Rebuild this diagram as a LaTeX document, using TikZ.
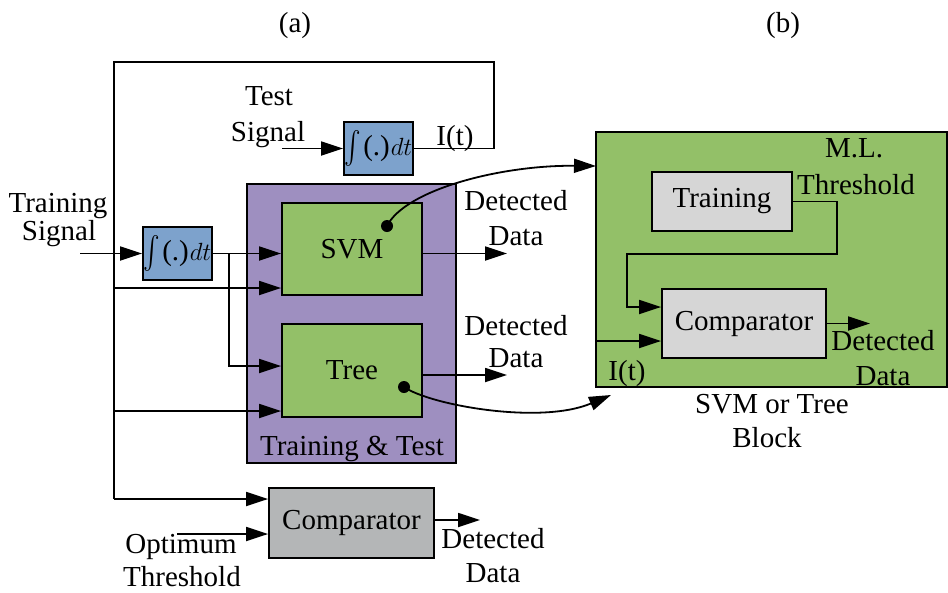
\documentclass[tikz,border=0pt]{standalone}
\usepackage{amsmath}
\usepackage{fontspec}
\setmainfont{Liberation Serif}
\usetikzlibrary{arrows.meta}
\definecolor{intblue}{RGB}{125,162,204}
\definecolor{ttpurple}{RGB}{158,143,192}
\definecolor{mlgreen}{RGB}{147,192,104}
\definecolor{boxgray}{RGB}{214,214,214}
\definecolor{compgray}{RGB}{180,182,183}
\newcommand{\intg}{\raisebox{-1pt}{\scalebox{1}[1.3]{$\textstyle\int$}}\kern2pt(.)\kern1pt$dt$}
\begin{document}
\begin{tikzpicture}[x=1pt,y=-1pt, line width=1.8pt,
  font=\fontsize{29}{32}\selectfont,
  >={Triangle[length=22pt,width=14pt]},
  blk/.style={draw, line width=1.8pt, inner sep=0pt, align=center},
  lbl/.style={anchor=base, inner sep=0pt},
  dot/.style={circle, fill, inner sep=0pt, minimum size=12pt}]
\useasboundingbox (0,0) rectangle (948,592);

% ---------- (a) ----------
\node[blk, fill=ttpurple, minimum width=209pt, minimum height=279pt] (tt) at (351.5,323.5) {};
\node[blk, fill=mlgreen, minimum width=140pt, minimum height=92pt] (svm) at (352,249) {SVM};
\node[blk, fill=mlgreen, minimum width=140pt, minimum height=93pt] (tree) at (352,370.5) {Tree};
\node[lbl] (ttl) at (352,455) {Training \& Test};
\node[blk, fill=intblue, minimum width=69pt, minimum height=53pt] (int1) at (378.5,148.5) {\intg};
\node[blk, fill=intblue, minimum width=69pt, minimum height=53pt] (int2) at (177.5,253.5) {\intg};
\node[blk, fill=compgray, minimum width=165pt, minimum height=70pt] (comp1) at (351.5,523) {Comparator};

% labels (a)
\node[lbl] (la) at (295,32) {(a)};
\node[lbl] (test1) at (269,105) {Test};
\node[lbl] (test2) at (268,141) {Signal};
\node[lbl] (tr1) at (58,212) {Training};
\node[lbl] (tr2) at (59,240) {Signal};
\node[lbl] (it1) at (455,145) {I(t)};
\node[lbl] (dd1) at (516,210) {Detected};
\node[lbl] (dd2) at (516,245) {Data};
\node[lbl] (dd3) at (516,335) {Detected};
\node[lbl] (dd4) at (516,367) {Data};
\node[lbl] (op1) at (181,553) {Optimum};
\node[lbl] (op2) at (182,586) {Threshold};
\node[lbl] (dd5) at (493,548) {Detected};
\node[lbl] (dd6) at (493,582) {Data};

% connectors (a)
\coordinate (ts) at (282,148.5);
\draw[->] (ts) -- (int1.west);
\coordinate (tr) at (494,62);
\coordinate (lp) at (114,499);
\draw (int1.east) -| (tr) -| (lp);
\draw[->] (lp) -- (comp1.west |- lp);
\coordinate (b1) at (114,288);
\draw[->] (b1) -- (svm.west |- b1);
\coordinate (b2) at (114,411);
\draw[->] (b2) -- (tree.west |- b2);
\coordinate (trs) at (80,253.5);
\draw[->] (trs) -- (int2.west);
\draw[->] (int2.east) -- (svm.west |- int2.east);
\coordinate (sp2) at (229,366);
\draw[->] (int2.east) -| (sp2) -- (tree.west |- sp2);
\coordinate (o1) at (507,253.5);
\draw[->] (svm.east |- o1) -- (o1);
\coordinate (o2) at (507,375);
\draw[->] (tree.east |- o2) -- (o2);
\coordinate (opt) at (177,534);
\draw[->] (opt) -- (comp1.west |- opt);
\coordinate (o3) at (480,520);
\draw[->] (comp1.east |- o3) -- (o3);

% ---------- (b) ----------
\node[blk, fill=mlgreen, minimum width=351pt, minimum height=255pt] (mlb) at (771.5,259.5) {};
\node[blk, fill=boxgray, minimum width=140pt, minimum height=59pt] (train) at (722,201.5) {Training};
\node[blk, fill=boxgray, minimum width=164pt, minimum height=69pt] (comp2) at (744,323.5) {Comparator};

\node[lbl] (lb) at (783,32) {(b)};
\node[lbl] (ml1) at (854,157) {M.L.};
\node[lbl] (ml2) at (856,194) {Threshold};
\node[lbl] (it2) at (627,380) {I(t)};
\node[lbl] (dd7) at (883,350) {Detected};
\node[lbl] (dd8) at (883,385) {Data};
\node[lbl] (sb1) at (772,413) {SVM or Tree};
\node[lbl] (sb2) at (767,447) {Block};

\coordinate (thr) at (837,254);
\coordinate (thl) at (627,307);
\draw[->] (train.east) -| (thr) -| (thl) -- (comp2.west |- thl);
\coordinate (it) at (596,341);
\draw[->] (it) -- (comp2.west |- it);
\coordinate (o4) at (870,323.5);
\draw[->] (comp2.east |- o4) -- (o4);

% curved links
\node[dot] (d1) at (387,226) {};
\node[dot] (d2) at (404,387) {};
\coordinate (e1) at (596,166);
\coordinate (e2) at (611,395);
\draw[->] (d1.center) .. controls (405,190) and (500,165) .. (e1);
\draw[->] (d2.center) .. controls (430,405) and (540,425) .. (e2);
\end{tikzpicture}
\end{document}
